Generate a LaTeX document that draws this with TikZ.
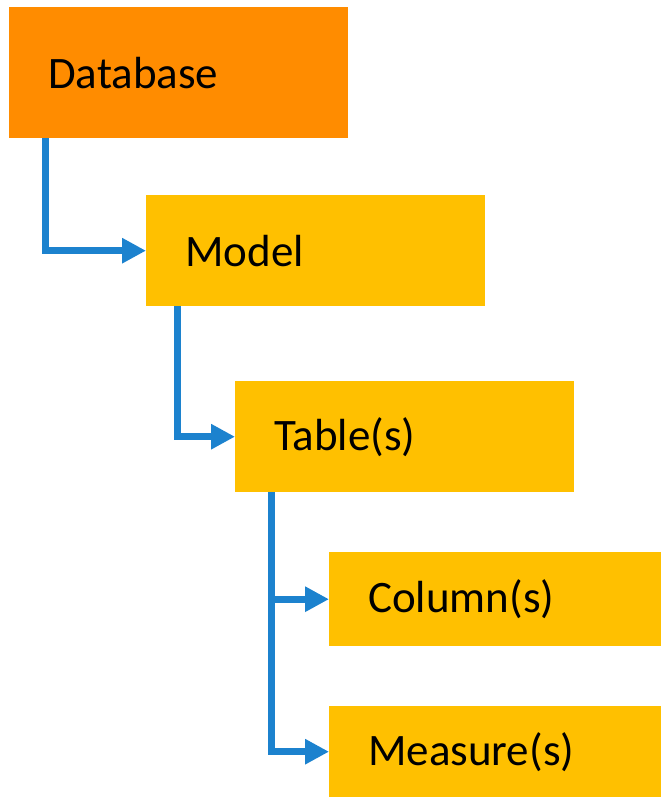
\documentclass[tikz,border=0pt]{standalone}
\usepackage{fontspec}
\setmainfont{Carlito}
\usetikzlibrary{arrows.meta}
\definecolor{dborange}{HTML}{FF8C00}
\definecolor{boxgold}{HTML}{FFC000}
\definecolor{linkblue}{HTML}{1C82CE}
\tikzset{
  box/.style={anchor=north west, inner xsep=39pt, inner ysep=0pt, align=left,
    font=\fontsize{45}{50}\selectfont, text=black},
  bigbox/.style={box, fill=boxgold, text width=261pt},
  smallbox/.style={box, fill=boxgold, text width=254pt},
  link/.style={draw=linkblue, line width=7pt, -{Triangle[length=24pt,width=24pt]}}
}
\begin{document}
\begin{tikzpicture}[x=1pt,y=-1pt]
\useasboundingbox (0,0) rectangle (661,797);
\node[bigbox, fill=dborange, minimum height=131pt] (db) at (9,7) {Database};
\node[bigbox, minimum height=111pt] (model) at (146,195) {Model};
\node[bigbox, minimum height=111pt] (tab) at (235,381) {Table(s)};
\node[smallbox, minimum height=94pt] (col) at (329,552) {Column(s)};
\node[smallbox, minimum height=91pt] (meas) at (329,706) {Measure(s)};
\draw[link] ([xshift=36pt]db.south west) |- (model.west);
\draw[link] ([xshift=31pt]model.south west) |- (tab.west);
\draw[link] ([xshift=36pt]tab.south west) |- (col.west);
\draw[link] ([xshift=36pt]tab.south west) |- (meas.west);
\end{tikzpicture}
\end{document}
